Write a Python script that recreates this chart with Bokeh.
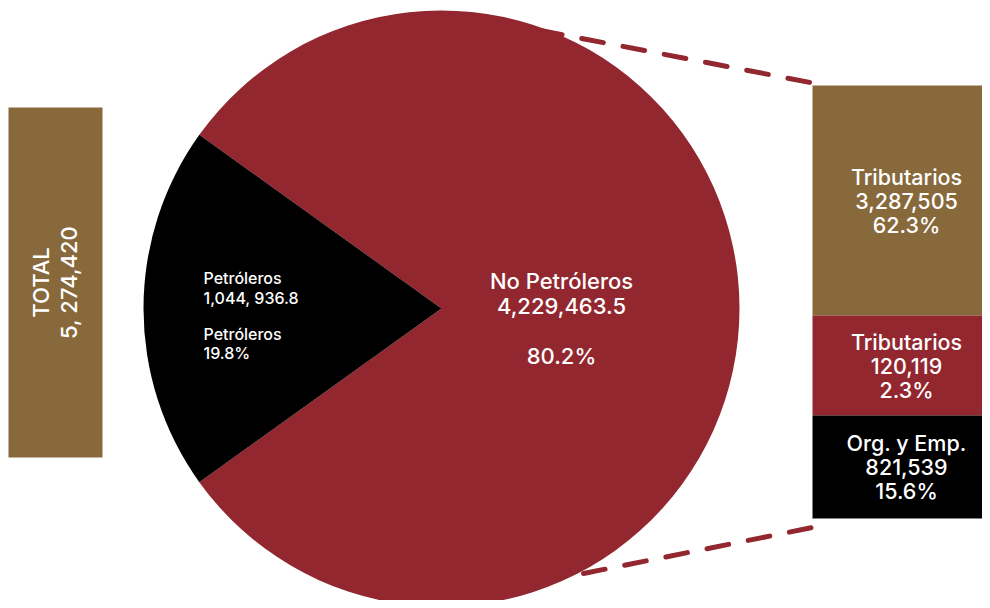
import math
from bokeh.plotting import figure
from bokeh.embed import file_html
from bokeh.resources import INLINE
from bokeh.core.properties import value

# ---- data ----
pie_labels = ["Petróleros", "No Petróleros"]
pie_values = ["1,044, 936.8", "4,229,463.5"]
pie_pct = [19.8, 80.2]
bar_labels = ["Tributarios", "Tributarios", "Org. y Emp."]
bar_values = ["3,287,505", "120,119", "821,539"]
bar_pct = [62.3, 2.3, 15.6]
total_label = "TOTAL"
total_value = "5, 274,420"

# ---- style ----
RED = "#93272f"
GOLD = "#88693c"
BLACK = "#000000"
WHITE = "#ffffff"
FONT = value("Inter Medium")
STYLE = "normal"

W, H = 982, 600
p = figure(width=W, height=H, x_range=(0, 982), y_range=(8, 608),
           output_backend="svg", toolbar_location=None, min_border=0,
           outline_line_color=None, background_fill_color=WHITE)
p.axis.visible = False
p.grid.visible = False

def Y(sy):
    return 608 - sy

# total box
p.quad(left=8, right=102, top=Y(107), bottom=Y(457), fill_color=GOLD, line_color=None)
p.text(x=[40], y=[Y(282)], text=[total_label], angle=math.pi / 2, text_align="center",
       text_baseline="middle", text_color=WHITE, text_font=FONT, text_font_style=STYLE,
       text_font_size="22px")
p.text(x=[68], y=[Y(282)], text=[total_value], angle=math.pi / 2, text_align="center",
       text_baseline="middle", text_color=WHITE, text_font=FONT, text_font_style=STYLE,
       text_font_size="22px")

# connector dashed lines
p.line(x=[540, 815], y=[Y(30), Y(83)], line_color=RED, line_width=5,
       line_dash="22 20", line_cap="round")
p.line(x=[583, 812], y=[Y(573), Y(527)], line_color=RED, line_width=5,
       line_dash="22 20", line_cap="round")

# pie
cx, cy, r = 441, Y(308), 298
half = pie_pct[0] / 100 * math.pi
a0, a1 = math.pi - half, math.pi + half
p.wedge(x=cx, y=cy, radius=r, start_angle=a1, end_angle=a0 + 2 * math.pi,
        fill_color=RED, line_color=None)
p.wedge(x=cx, y=cy, radius=r, start_angle=a0, end_angle=a1,
        fill_color=BLACK, line_color=None)

# pie labels
p.text(x=[203] * 4, y=[Y(277), Y(297), Y(333), Y(352)],
       text=[pie_labels[0], pie_values[0], pie_labels[0], f"{pie_pct[0]}%"],
       text_align="left", text_baseline="middle", text_color=WHITE, text_font=FONT,
       text_font_style=STYLE, text_font_size="16px")
p.text(x=[561] * 3, y=[Y(280), Y(305), Y(355)],
       text=[pie_labels[1], pie_values[1], f"{pie_pct[1]}%"],
       text_align="center", text_baseline="middle", text_color=WHITE, text_font=FONT,
       text_font_style=STYLE, text_font_size="22px")

# stacked detail bar
seg_edges = [85, 315, 415, 518]
seg_colors = [GOLD, RED, BLACK]
for i in range(3):
    top, bot = seg_edges[i], seg_edges[i + 1]
    p.quad(left=812, right=990, top=Y(top), bottom=Y(bot), fill_color=seg_colors[i],
           line_color=None)
    mid = (top + bot) / 2
    p.text(x=[906] * 3, y=[Y(mid - 24), Y(mid), Y(mid + 24)],
           text=[bar_labels[i], bar_values[i], f"{bar_pct[i]}%"],
           text_align="center", text_baseline="middle", text_color=WHITE, text_font=FONT,
           text_font_style=STYLE, text_font_size="21.5px")

open("out.html", "w").write(file_html(p, INLINE))
